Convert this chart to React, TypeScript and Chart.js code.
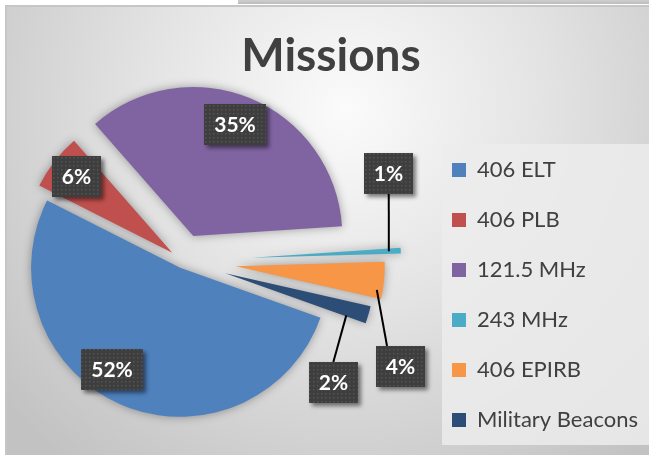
import React, { useEffect, useRef } from 'react';
import { Chart, registerables, layouts } from 'chart.js';

Chart.register(...registerables);

// ---- data ----
const categories = ['406 ELT', '406 PLB', '121.5 MHz', '243 MHz', '406 EPIRB', 'Military Beacons'];
const shares = [52.0, 6.1, 35.4, 0.6, 4.0, 1.9];
const chartTitle = 'Missions';

// ---- styles ----
const sliceColors = ['#4f81bd', '#c0504d', '#8064a2', '#4bacc6', '#f79646', '#2c4d75'];
const explodePx = [7.4, 13.6, 27, 69, 53, 44];
const startRotation = 109.6;
const pieRadius = 149;
const INNER_GAP = 58;
const RIGHT_BLOCK = 296;
const FONT = 'Lato, "Open Sans", sans-serif';

type Placement =
  | { kind: 'in'; r: number; da: number }
  | { kind: 'out'; dx: number; dy: number; lr: number; lda: number; attach: 'top' | 'bottom'; ax: number };

const labelPlacement: Placement[] = [
  { kind: 'in', r: 0.82, da: 10.5 },
  { kind: 'in', r: 0.82, da: 0.8 },
  { kind: 'in', r: 0.8, da: -1.9 },
  { kind: 'out', dx: -12, dy: -77, lr: 0.92, lda: 0, attach: 'bottom', ax: 0 },
  { kind: 'out', dx: 16, dy: 86, lr: 0.96, lda: 4, attach: 'top', ax: -13 },
  { kind: 'out', dx: -35, dy: 68, lr: 0.86, lda: 3, attach: 'top', ax: 0 },
];

const total = () => shares.reduce((a, b) => a + b, 0);

function makeSpacer(chart: any, weight: number, widthFn: () => number) {
  return {
    position: 'right',
    weight,
    fullSize: false,
    options: { display: false },
    left: 0, top: 0, right: 0, bottom: 0, width: 0, height: 0,
    isHorizontal() { return false; },
    update(_mw: number, mh: number) {
      this.width = Math.max(widthFn(), 0);
      this.height = mh;
    },
    draw() {},
  };
}

const spacers = {
  id: 'spacers',
  beforeInit(chart: any) {
    layouts.addBox(chart, makeSpacer(chart, 500, () => INNER_GAP) as any);
    layouts.addBox(chart, makeSpacer(chart, 1500, () =>
      RIGHT_BLOCK - INNER_GAP - (chart.legend ? chart.legend.width : 0)) as any);
  },
};

// Excel-style explosion: move each slice outwards along its bisector
const explode = {
  id: 'explode',
  afterDatasetUpdate(_chart: any, args: any) {
    args.meta.data.forEach((arc: any, i: number) => {
      const mid = (arc.startAngle + arc.endAngle) / 2;
      arc.x += Math.cos(mid) * explodePx[i];
      arc.y += Math.sin(mid) * explodePx[i];
    });
  },
};

const backdrop = {
  id: 'backdrop',
  beforeDraw(chart: any) {
    const { ctx, width, height } = chart;
    ctx.save();
    ctx.fillStyle = '#ffffff';
    ctx.fillRect(0, 0, width, height);
    const gb = ctx.createLinearGradient(0, 0, 0, 4);
    gb.addColorStop(0, '#cfcfcf');
    gb.addColorStop(1, '#bcbcbc');
    ctx.fillStyle = gb;
    ctx.fillRect(238, 0, width - 238, 4);
    const g = ctx.createRadialGradient(345, 110, 0, 345, 110, 450);
    g.addColorStop(0, '#fbfbfb');
    g.addColorStop(0.45, '#e3e3e3');
    g.addColorStop(1, '#c2c2c2');
    ctx.fillStyle = g;
    ctx.fillRect(6, 6, width - 6, height - 6);
    ctx.strokeStyle = '#c6c6c6';
    ctx.lineWidth = 2;
    ctx.beginPath();
    ctx.moveTo(6, height);
    ctx.lineTo(6, 6);
    ctx.lineTo(width, 6);
    ctx.stroke();
    const lg = chart.legend;
    if (lg) {
      const top = lg.bottom - 315;
      const bottom = lg.bottom - 14;
      ctx.fillStyle = 'rgba(236,236,236,0.85)';
      ctx.fillRect(lg.left + 18, top, width - lg.left - 18, bottom - top);
    }
    ctx.restore();
  },
};

const sliceShadow = {
  id: 'sliceShadow',
  beforeDatasetsDraw(chart: any) {
    const c = chart.ctx;
    c.save();
    c.shadowColor = 'rgba(0,0,0,0.35)';
    c.shadowBlur = 10;
  },
  afterDatasetsDraw(chart: any) {
    chart.ctx.restore();
  },
};

let patternCache: CanvasPattern | null = null;
function boxPattern(ctx: CanvasRenderingContext2D) {
  if (patternCache) return patternCache;
  const pc = document.createElement('canvas');
  pc.width = 4;
  pc.height = 4;
  const p = pc.getContext('2d')!;
  p.fillStyle = '#3e3e3e';
  p.fillRect(0, 0, 4, 4);
  p.fillStyle = '#545454';
  p.fillRect(1, 1, 1.5, 1.5);
  patternCache = ctx.createPattern(pc, 'repeat');
  return patternCache;
}

const dataLabels = {
  id: 'dataLabels',
  afterDraw(chart: any) {
    const ctx: CanvasRenderingContext2D = chart.ctx;
    const meta = chart.getDatasetMeta(0);
    const sum = total();
    meta.data.forEach((arc: any, i: number) => {
      const { x: cx, y: cy, startAngle, endAngle, outerRadius } = arc.getProps(
        ['x', 'y', 'startAngle', 'endAngle', 'outerRadius'], true);
      const mid = (startAngle + endAngle) / 2;
      const pl = labelPlacement[i];
      let bx: number;
      let by: number;
      if (pl.kind === 'in') {
        const a = mid + (pl.da * Math.PI) / 180;
        bx = cx + Math.cos(a) * pl.r * outerRadius;
        by = cy + Math.sin(a) * pl.r * outerRadius;
      } else {
        bx = cx + Math.cos(mid) * outerRadius + pl.dx;
        by = cy + Math.sin(mid) * outerRadius + pl.dy;
      }
      const text = Math.round((shares[i] / sum) * 100) + '%';
      ctx.save();
      ctx.font = `bold 21px ${FONT}`;
      const tw = ctx.measureText(text).width;
      const w = Math.round(tw + 20);
      const h = 41;
      const left = Math.round(bx - w / 2);
      const top = Math.round(by - h / 2);
      if (pl.kind === 'out') {
        const a = mid + (pl.lda * Math.PI) / 180;
        const sx = cx + Math.cos(a) * pl.lr * outerRadius;
        const sy = cy + Math.sin(a) * pl.lr * outerRadius;
        const ex = bx + pl.ax;
        const ey = pl.attach === 'top' ? top : top + h;
        ctx.strokeStyle = '#000000';
        ctx.lineWidth = 2;
        ctx.beginPath();
        ctx.moveTo(sx, sy);
        ctx.lineTo(ex, ey);
        ctx.stroke();
      }
      ctx.shadowColor = 'rgba(0,0,0,0.5)';
      ctx.shadowBlur = 4;
      ctx.shadowOffsetX = 3;
      ctx.shadowOffsetY = 3;
      ctx.fillStyle = boxPattern(ctx) || '#404040';
      ctx.fillRect(left, top, w, h);
      ctx.shadowColor = 'transparent';
      ctx.fillStyle = '#ffffff';
      ctx.textAlign = 'center';
      ctx.textBaseline = 'middle';
      ctx.fillText(text, left + w / 2, top + h / 2 + 1);
      ctx.restore();
    });
  },
};

export default function App() {
  const ref = useRef<HTMLCanvasElement | null>(null);
  useEffect(() => {
    if (!ref.current) return;
    const chart = new Chart(ref.current, {
      type: 'pie',
      data: {
        labels: categories,
        datasets: [
          {
            data: shares,
            backgroundColor: sliceColors,
            borderWidth: 0,
            radius: pieRadius,
          } as any,
        ],
      },
      options: {
        responsive: false,
        animation: false,
        rotation: startRotation,
        layout: { padding: { left: 0, right: -13, top: 0, bottom: 1 } },
        plugins: {
          title: {
            display: true,
            text: chartTitle,
            color: '#404040',
            font: { family: FONT, size: 46, weight: 'bold', lineHeight: 0.3 },
            padding: { top: 49.2, bottom: 0 },
          },
          legend: {
            display: true,
            position: 'right',
            align: 'end',
            labels: {
              boxWidth: 14,
              boxHeight: 14,
              padding: 28,
              color: '#404040',
              font: { family: FONT, size: 22 },
            },
          },
          tooltip: { enabled: false },
        },
      } as any,
      plugins: [spacers, explode, backdrop, sliceShadow, dataLabels],
    });
    return () => chart.destroy();
  }, []);
  return (
    <>
      <style>{'html,body{margin:0;padding:0;overflow:hidden;}'}</style>
      <canvas ref={ref} width={649} height={460} style={{ display: 'block' }} />
    </>
  );
}
